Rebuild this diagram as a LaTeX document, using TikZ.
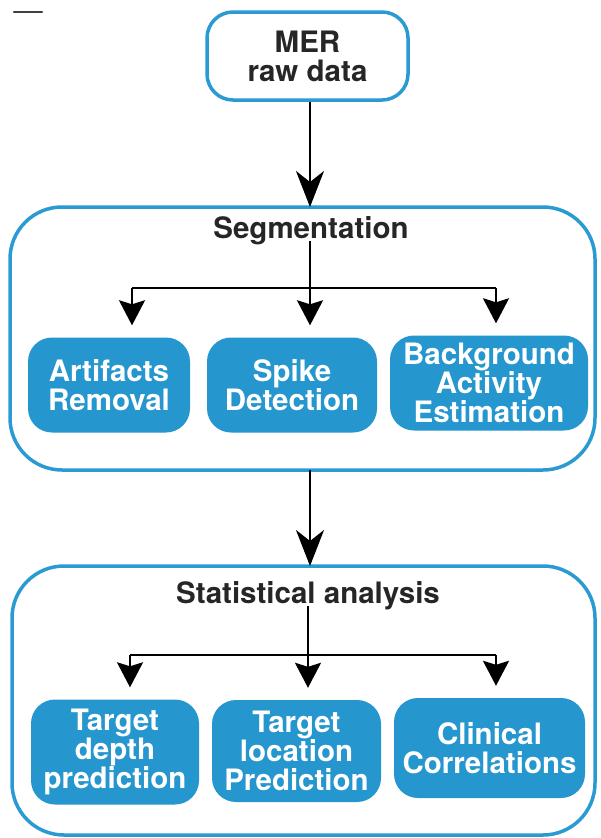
\documentclass[tikz,border=0pt]{standalone}
\usepackage{fontspec}
\setmainfont{TeX Gyre Heros}
\usetikzlibrary{arrows.meta}
\definecolor{mblue}{RGB}{42,154,210}
\definecolor{fblue}{RGB}{38,150,206}
\begin{document}
\begin{tikzpicture}[x=1pt,y=-1pt,
  txt/.style={font=\fontsize{29.5}{29}\selectfont\bfseries, align=center, inner sep=0pt},
  container/.style={draw=mblue, line width=3.5pt, fill=white},
  whitebox/.style={container, rounded corners=26pt, txt},
  panel/.style={container, rounded corners=52pt},
  filledbox/.style={fill=fblue, rounded corners=24pt, txt, text=white},
  title/.style={txt, text=black!85},
  line/.style={draw=black, line width=2.2pt},
  bigarr/.style={line, -{Stealth[length=36pt,width=28pt,inset=11pt]}},
  smallarr/.style={line, -{Stealth[length=25pt,width=26pt,inset=4pt]}, shorten >=12pt}
]
\useasboundingbox (0,0) rectangle (600,838);
\draw[draw=black!75, line width=2.5pt, line cap=round] (14,12) -- (42,12);

% top box
\node[whitebox, minimum width=201pt, minimum height=88pt, text=black!85] (mer) at (307.5,56) {MER\\raw data};

% segmentation panel
\node[panel, minimum width=585pt, minimum height=263pt] (seg) at (302.5,338.5) {};
\node[title] (segt) at (311,231) {Segmentation};
\node[filledbox, minimum width=162pt, minimum height=95pt] (art) at (109,385) {Artifacts\\Removal};
\node[filledbox, minimum width=170pt, minimum height=95pt] (spk) at (292,385) {Spike\\Detection};
\node[filledbox, minimum width=198pt, minimum height=95pt] (bkg) at (489,383) {Background\\Activity\\Estimation};
\coordinate (sl) at (132,288);
\coordinate (sj) at (310,288);
\coordinate (sr) at (496,288);
\draw[line] ([yshift=4pt]segt.south -| sj) -- (sj);
\draw[line] (sl) -- (sr);
\draw[smallarr] (sl) -- (sl |- art.north);
\draw[smallarr] (sj) -- (sj |- spk.north);
\draw[smallarr] (sr) -- (sr |- bkg.north);

% statistical panel
\node[panel, minimum width=583pt, minimum height=269pt] (stat) at (303.5,700.5) {};
\node[title] (statt) at (308,596) {Statistical analysis};
\node[filledbox, minimum width=168pt, minimum height=105pt] (tdp) at (115,752) {Target\\depth\\prediction};
\node[filledbox, minimum width=169pt, minimum height=102pt] (tlp) at (296.5,751) {Target\\location\\Prediction};
\node[filledbox, minimum width=191pt, minimum height=100pt] (cc) at (489.5,748) {Clinical\\Correlations};
\coordinate (tl) at (130,655);
\coordinate (tj) at (308,655);
\coordinate (tr) at (496,655);
\draw[line] ([yshift=4pt]statt.south -| tj) -- (tj);
\draw[line] (tl) -- (tr);
\draw[smallarr] (tl) -- (tl |- tdp.north);
\draw[smallarr] (tj) -- (tj |- tlp.north);
\draw[smallarr] (tr) -- (tr |- cc.north);

% main arrows
\draw[bigarr] (mer.south -| 310,0) -- (310,207);
\draw[bigarr] (310,470) -- (310,566);
\end{tikzpicture}
\end{document}
